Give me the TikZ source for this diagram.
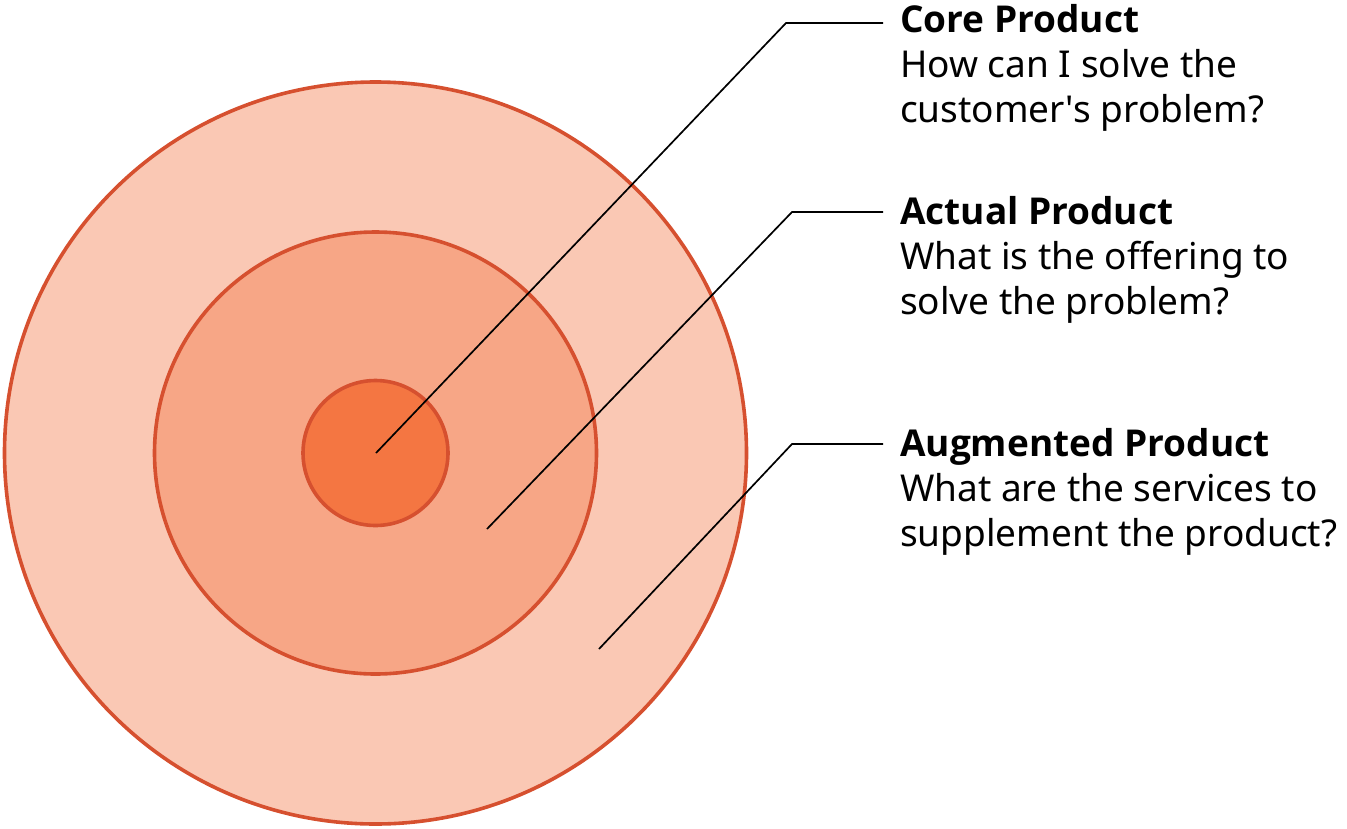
\documentclass[tikz,border=0pt]{standalone}
\usepackage{fontspec}
\setmainfont{Noto Sans}
\newfontfamily\titlefont{Open Sans}
\definecolor{ringline}{HTML}{D6502F}
\definecolor{outerfill}{HTML}{FAC8B4}
\definecolor{midfill}{HTML}{F7A686}
\definecolor{corefill}{HTML}{F47642}
\tikzset{
  ring/.style={draw=ringline, line width=3.6pt},
  leader/.style={draw=black, line width=1.7pt},
  title/.style={anchor=base west, inner sep=0pt, font=\fontsize{37}{45}\selectfont\titlefont\bfseries},
  desc/.style={anchor=base west, inner sep=0pt, font=\fontsize{37}{45}\selectfont},
}
\begin{document}
\begin{tikzpicture}[x=1pt,y=-1pt]
\useasboundingbox (0,0) rectangle (1347,828);
\coordinate (ctr) at (375.5,453);
\draw[ring, fill=outerfill] (ctr) circle[radius=371];
\draw[ring, fill=midfill] (ctr) circle[radius=221];
\draw[ring, fill=corefill] (ctr) circle[radius=72.5];

% leader lines
\coordinate (a0) at (376,453);
\coordinate (a1) at (786,23);
\coordinate (a2) at (883,23);
\coordinate (b0) at (487,529);
\coordinate (b1) at (792,212);
\coordinate (b2) at (883,212);
\coordinate (g0) at (599,649);
\coordinate (g1) at (792,444);
\coordinate (g2) at (883,444);
\draw[leader] (a0) -- (a1) -- (a2);
\draw[leader] (b0) -- (b1) -- (b2);
\draw[leader] (g0) -- (g1) -- (g2);

% labels
\node[title] (coreT) at (900,32) {Core Product};
\node[desc] (coreA) at (900,77) {How can I solve the};
\node[desc] (coreB) at (900,122) {customer\textquotesingle s problem?};

\node[title] (actT) at (900,224) {Actual Product};
\node[desc] (actA) at (900,269) {What is the offering to};
\node[desc] (actB) at (900,314) {solve the problem?};

\node[title] (augT) at (900,456) {Augmented Product};
\node[desc] (augA) at (900,501) {What are the services to};
\node[desc] (augB) at (900,546) {supplement the product?};
\end{tikzpicture}
\end{document}
